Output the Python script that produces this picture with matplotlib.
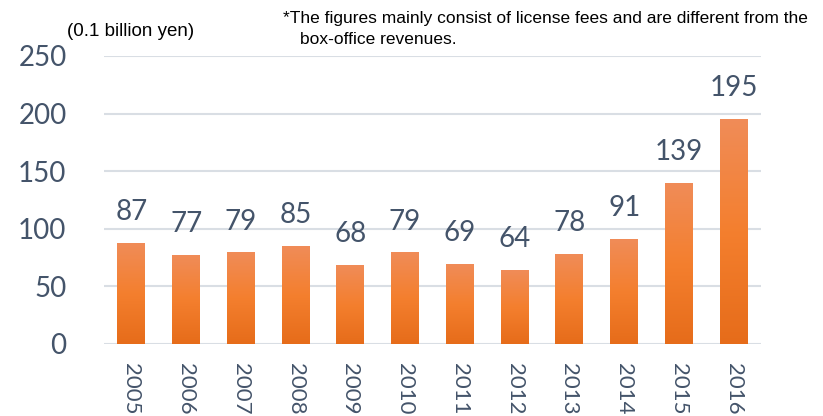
import numpy as np
import matplotlib.pyplot as plt
from matplotlib.colors import LinearSegmentedColormap

years = ['2005', '2006', '2007', '2008', '2009', '2010',
         '2011', '2012', '2013', '2014', '2015', '2016']
values = [87, 77, 79, 85, 68, 79, 69, 64, 78, 91, 139, 195]

txt_color = '#44546A'
grad = LinearSegmentedColormap.from_list('o', ['#E66C1A', '#F47F2E', '#F08C58'])

fig = plt.figure(figsize=(8.23, 4.16), dpi=100)
ax = fig.add_axes([104 / 823, 1 - 344 / 416, 657 / 823, 288 / 416])

x = np.arange(len(years))
bw = 0.51
bars = ax.bar(x, values, width=bw, color='none', zorder=3)
g = np.linspace(0, 1, 256).reshape(-1, 1)
for b in bars:
    x0, h = b.get_x(), b.get_height()
    ax.imshow(g, cmap=grad, origin='lower', aspect='auto',
              extent=(x0, x0 + bw, 0, h), zorder=3)
    ax.text(x0 + bw / 2, h + 16, str(int(h)), ha='center', va='bottom',
            fontsize=20, color=txt_color, family='Lato')

ax.set_xlim(-0.5, len(years) - 0.5)
ax.set_ylim(0, 250)
ax.set_yticks(range(0, 251, 50))
ax.yaxis.grid(True, color='#D9DEE4', linewidth=1.5, zorder=0)
ax.set_axisbelow(True)
for s in ax.spines.values():
    s.set_visible(False)
ax.tick_params(length=0)
ax.set_yticklabels([str(v) for v in range(0, 251, 50)], fontsize=20,
                   color=txt_color, family='Lato')
ax.yaxis.set_tick_params(pad=27)
ax.set_xticks(x)
ax.set_xticklabels(years, rotation=270, fontsize=16, color=txt_color,
                   family='Lato')
ax.xaxis.set_tick_params(pad=14)

narrow = ['Liberation Sans Narrow', 'Liberation Sans']
fig.text(67 / 823, 1 - 32 / 416, '(0.1 billion yen)', ha='left', va='center',
         fontsize=13.5, family=narrow)
fig.text(283 / 823, 1 - 18 / 416,
         '*The figures mainly consist of license fees and are different from the',
         ha='left', va='center', fontsize=12.5, family=narrow)
fig.text(300 / 823, 1 - 40 / 416, 'box-office revenues.', ha='left',
         va='center', fontsize=12.5, family=narrow)

fig.savefig('out.png', dpi=100)
